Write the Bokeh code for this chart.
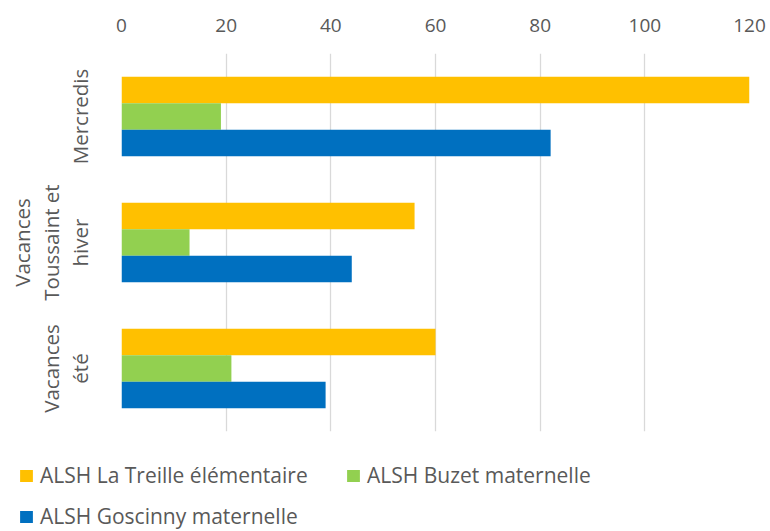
from bokeh.plotting import figure
from bokeh.models import ColumnDataSource, FactorRange, Range1d, FixedTicker, Legend, LegendItem
from bokeh.transform import dodge
from bokeh.embed import file_html
from bokeh.resources import INLINE

categories = ["Mercredis", "Vacances\nToussaint et\nhiver", "Vacances\nété"]
series_names = ["ALSH La Treille élémentaire", "ALSH Buzet maternelle", "ALSH Goscinny maternelle"]
treille = [120, 56, 60]
buzet = [19, 13, 21]
goscinny = [82, 44, 39]
x_ticks = [0, 20, 40, 60, 80, 100, 120]
colors = ["#FFC000", "#92D050", "#0070C0"]
value_cols = ["treille", "buzet", "goscinny"]

FONT = "Open Sans"
GREY = "#595959"

source = ColumnDataSource(data=dict(cat=categories, treille=treille, buzet=buzet, goscinny=goscinny))

p = figure(
    y_range=FactorRange(factors=list(reversed(categories)), range_padding=0),
    x_range=Range1d(0, 120),
    x_axis_location="above",
    width=768, height=432,
    min_border_left=121, min_border_right=19, min_border_top=53, min_border_bottom=1,
    output_backend="svg", toolbar_location=None,
)

bh = 0.21
for col, c, off in zip(value_cols, colors, [bh, 0, -bh]):
    p.hbar(y=dodge("cat", off, range=p.y_range), right=col, left=0, height=bh, source=source,
           fill_color=c, line_color=None)

p.outline_line_color = None
p.ygrid.grid_line_color = None
p.xgrid.grid_line_color = "#D9D9D9"
p.xgrid.grid_line_width = 1.3

xa = p.xaxis[0]
xa.ticker = FixedTicker(ticks=x_ticks)
xa.axis_line_color = None
xa.major_tick_line_color = None
xa.minor_tick_line_color = None
xa.major_label_text_font = FONT
xa.major_label_text_font_size = "19px"
xa.major_label_text_color = GREY
xa.major_label_standoff = 16

ya = p.yaxis[0]
ya.axis_line_color = None
ya.major_tick_line_color = None
ya.minor_tick_line_color = None
ya.major_label_text_font = FONT
ya.major_label_text_font_size = "20.5px"
ya.major_label_text_line_height = 1.02
ya.major_label_text_color = GREY
ya.major_label_orientation = "parallel"
ya.major_label_standoff = 22

# legend figure (separate root so its frame is not aligned with the chart)
lg = figure(width=768, height=98, x_range=Range1d(0, 1), y_range=Range1d(0, 1),
            x_axis_type=None, y_axis_type=None, min_border=0,
            output_backend="svg", toolbar_location=None)
lg.outline_line_color = None
lg.grid.visible = False
lr = [lg.hbar(y=0, right=col, left=0, height=1, source=source, fill_color=c, line_color=None, visible=False)
      for col, c in zip(value_cols, colors)]

legend = Legend(
    items=[LegendItem(label=n, renderers=[r]) for n, r in zip(series_names, lr)],
    orientation="horizontal", ncols=2,
    location=(18, 0),
    label_text_font=FONT, label_text_font_size="21px", label_text_color=GREY,
    glyph_width=16, glyph_height=15, label_standoff=6,
    spacing=13, label_height=22, label_width=292,
    padding=0, margin=0,
    inactive_fill_alpha=0,
    background_fill_alpha=0, border_line_color=None,
)
lg.add_layout(legend)

open("out.html", "w").write(file_html((p, lg), INLINE))
